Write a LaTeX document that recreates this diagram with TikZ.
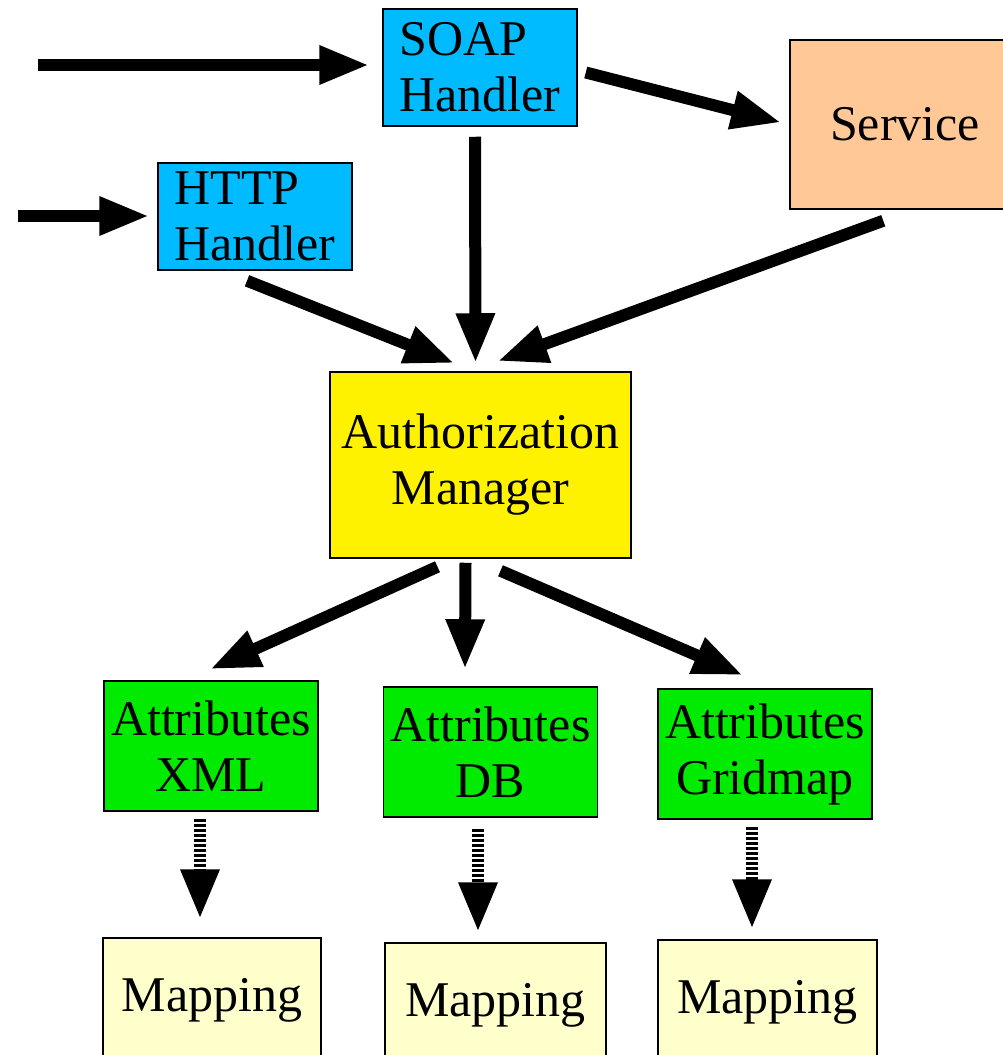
\documentclass[tikz,border=0pt]{standalone}
\usepackage{fontspec}
\setmainfont{Liberation Serif}
\newfontfamily\boxfont{Liberation Serif}
\usepackage{tikz}
\usetikzlibrary{arrows.meta}
\definecolor{handlerblue}{RGB}{0,187,255}
\definecolor{servicepeach}{RGB}{255,200,150}
\definecolor{attrgreen}{RGB}{0,235,0}
\definecolor{mappale}{RGB}{255,255,204}
\tikzset{
      box/.style={draw=black, line width=1.5pt, inner sep=0pt, align=center,
            font=\boxfont\fontsize{50}{56}\selectfont},
      handler/.style={box, fill=handlerblue, minimum width=194pt, align=left},
      service/.style={box, fill=servicepeach, minimum width=230pt, minimum height=169pt},
      manager/.style={box, fill=yellow, minimum width=301pt, minimum height=186pt},
      attrib/.style={box, fill=attrgreen, minimum width=214pt, minimum height=130pt},
      mapbox/.style={box, fill=mappale, minimum width=219pt, minimum height=124pt},
      arr/.style={draw=black, line width=12pt, -{Triangle[length=50pt,width=36pt]}},
      darr/.style={arr, dash pattern=on 3.5pt off 1.5pt},
}
\begin{document}
\begin{tikzpicture}[x=1pt,y=-1pt]
        \useasboundingbox (0,0) rectangle (1003,1055);

        % Draw the boxes
        \node[handler, minimum height=117pt] (soap) at (480,67.5) {SOAP\\Handler};
        \node[handler, minimum height=107pt] (http) at (255,216.5) {HTTP\\Handler};
        \node[service] (service) at (905,124.5) {Service};
        \node[manager] (auth) at (480.5,465) {Authorization\\Manager};

        \node[attrib] (xml) at (211,746) {Attributes\\XML};
        \node[attrib] (db) at (490.5,752) {Attributes\\DB};
        \node[attrib] (grid) at (765,754) {Attributes\\Gridmap};

        \node[mapbox, minimum width=218pt] (map1) at (212,1000) {Mapping};
        \node[mapbox, minimum width=221pt] (map2) at (495.5,1005) {Mapping};
        \node[mapbox] (map3) at (767.5,1002) {Mapping};

        \coordinate (soapin) at (38,65);
        \coordinate (httpin) at (18,216);

        % Draw the arrows
        \draw[arr, shorten >=13pt] (soapin) -- (soap.west |- soapin);
        \draw[arr, shorten >=8pt] (httpin) -- (http.west |- httpin);
        \draw[arr] ([shift={(8,5)}]soap.east) -- ([shift={(-8,-2)}]service.west);
        \draw[arr] ([shift={(-5,10)}]soap.south) -- ([shift={(-5,-8)}]auth.north);
        \draw[arr] ([shift={(-8,10)}]http.south) -- ([shift={(-26,-8)}]auth.north);
        \draw[arr] ([shift={(94,11)}]service.south west) -- ([shift={(17,-10)}]auth.north);

        \draw[arr] ([shift={(-43,8)}]auth.south) -- ([shift={(-1,-11)}]xml.north);
        \draw[arr] ([shift={(-15,4)}]auth.south) -- ([shift={(-25.5,-17)}]db.north);
        \draw[arr] ([shift={(20,12)}]auth.south) -- ([shift={(-22,-13)}]grid.north);

        \draw[darr] ([shift={(-11,7)}]xml.south) -- ([shift={(-12,-18)}]map1.north);
        \draw[darr] ([shift={(-12.5,11)}]db.south) -- ([shift={(-17.5,-10)}]map2.north);
        \draw[darr] ([shift={(-13,7)}]grid.south) -- ([shift={(-15.5,-10)}]map3.north);

\end{tikzpicture}
\end{document}
